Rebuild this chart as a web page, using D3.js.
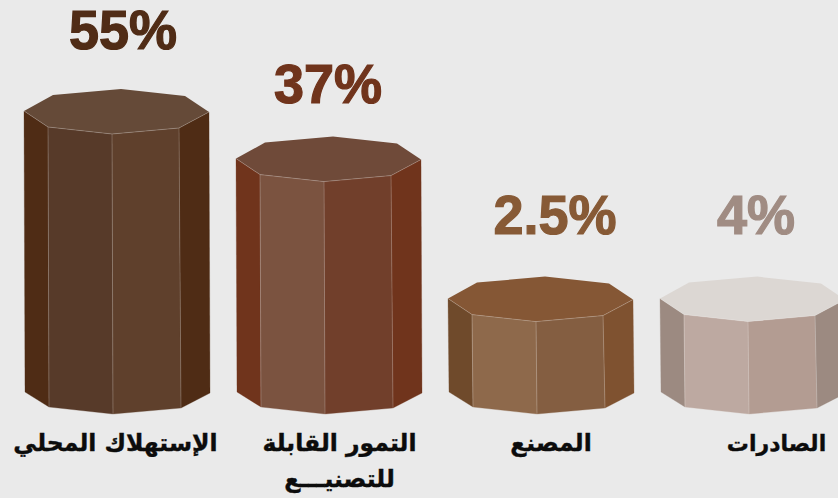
<!DOCTYPE html>
<html>
<head>
    <meta charset="utf-8">
    <title>Dates use</title>
    <script src="https://d3js.org/d3.v7.min.js"></script>
    <style>
        html, body { margin: 0; padding: 0; background: #eaeaea; overflow: hidden; }
        svg { display: block; }
        .share { font-family: 'Liberation Sans', sans-serif; font-weight: 700; font-size: 54px; text-anchor: middle; stroke-width: 1.2px; }
        .cat { font-family: 'DejaVu Sans', sans-serif; font-weight: 700; text-anchor: middle; fill: #0c0c0c; stroke: #0c0c0c; stroke-width: 0.4px; direction: rtl; }
    </style>
</head>
<body>
<svg id="chart" width="838" height="498"></svg>

<script>
    // data
    const categories = ["الإستهلاك المحلي", "التمور القابلة|للتصنيـــع", "المصنع", "الصادرات"];
    const shares = [55, 37, 2.5, 4];
    // the columns are not drawn to scale with the shares, so their drawn height is kept apart
    const columnHeights = [100, 83, 33, 33];

    const topColors = ["#654a38", "#6f4a39", "#855735", "#dcd7d3"];
    const sideLeftColors = ["#4f2c15", "#70341c", "#6f4a2b", "#9c8a81"];
    const sideRightColors = ["#4f2c15", "#70341c", "#7f5230", "#9c8a81"];
    const frontLeftColors = ["#573a29", "#7b5340", "#8e694b", "#bda9a1"];
    const frontRightColors = ["#5f402c", "#713f2b", "#845e41", "#b39c92"];
    const textColors = ["#502c16", "#70341c", "#875a36", "#a08c83"];

    const width = 838, height = 498;
    const baseY = 414;

    const xScale = d3.scaleBand().domain(d3.range(4)).range([24, 845]).paddingInner(27 / 212).paddingOuter(0);
    const yScale = d3.scaleLinear().domain([0, 100]).range([baseY, 134]);

    // octagon outline, relative to column left edge and front vertex
    const topRing = [[0, -23], [29, -39], [97, -45], [161, -38], [185, -22], [155, -6], [88, 0], [24, -7]];
    const bottomFront = [[1, -22], [25, -7], [89, 0], [157, -6], [186, -21]];

    // label placement relative to column centre
    const shareDx = [6.5, -0.5, 14.5, 3.5];
    const shareDy = [-85, -79, -88, -88];
    const catDx = [-1, 11, 10.5, 24];
    const catSize = [23.5, 23.5, 23.5, 22];

    const svg = d3.select("#chart");
    const line = d3.line();

    function edge(g, a, b) {
        g.append("path")
            .attr("d", line([a, b]))
            .attr("fill", "none")
            .attr("stroke", "#fff")
            .attr("stroke-opacity", 0.28)
            .attr("stroke-width", 0.8);
    }

    shares.forEach((share, i) => {
        const x0 = xScale(i);
        const yTop = yScale(columnHeights[i]);
        const top = topRing.map(p => [x0 + p[0], yTop + p[1]]);
        const bottom = bottomFront.map(p => [x0 + p[0], baseY + p[1]]);
        const g = svg.append("g");

        // side and front faces, top ring points 0,7,6,5,4 run along the front
        const frontTop = [top[0], top[7], top[6], top[5], top[4]];
        const faceColors = [sideLeftColors[i], frontLeftColors[i], frontRightColors[i], sideRightColors[i]];
        faceColors.forEach((color, k) => {
            g.append("path")
                .attr("d", line([frontTop[k], frontTop[k + 1], bottom[k + 1], bottom[k]]) + "Z")
                .attr("fill", color)
                .attr("stroke", color)
                .attr("stroke-width", 0.3);
        });

        g.append("path")
            .attr("d", line(top) + "Z")
            .attr("fill", topColors[i]);

        for (let k = 1; k <= 3; k++) edge(g, frontTop[k], bottom[k]);
        for (let k = 0; k < 4; k++) edge(g, frontTop[k], frontTop[k + 1]);

        const cx = x0 + xScale.bandwidth() / 2;

        // numerals in the reference are a little taller than this font
        svg.append("text")
            .attr("class", "share")
            .attr("transform", `translate(${cx + shareDx[i]},${yTop + shareDy[i]}) scale(1,1.04)`)
            .attr("fill", textColors[i])
            .attr("stroke", textColors[i])
            .text(share + "%");

        const cat = svg.append("text")
            .attr("class", "cat")
            .attr("font-size", catSize[i])
            .attr("x", cx + catDx[i])
            .attr("y", 451);
        categories[i].split("|").forEach((t, n) => {
            cat.append("tspan")
                .attr("x", cx + catDx[i])
                .attr("y", 451 + n * 36)
                .text(t);
        });
    });
</script>
</body>
</html>
